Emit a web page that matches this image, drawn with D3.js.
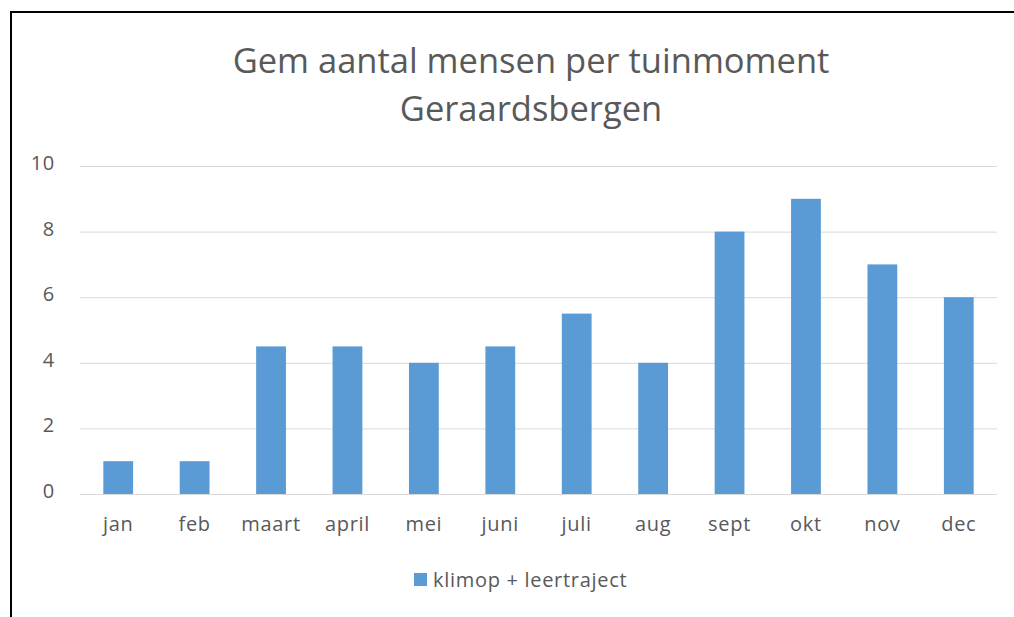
<!DOCTYPE html>
<html>
<head>
<meta charset="utf-8">
<script src="https://cdn.jsdelivr.net/npm/d3@7"></script>
<style>
  body { margin: 0; background: #fff; }
  svg { display: block; font-family: "Open Sans", "Noto Sans", sans-serif; }
</style>
</head>
<body>
<div id="chart"></div>
<script>
// data
const months = ["jan", "feb", "maart", "april", "mei", "juni", "juli", "aug", "sept", "okt", "nov", "dec"];
const values = [1, 1, 4.5, 4.5, 4, 4.5, 5.5, 4, 8, 9, 7, 6];
const yTicks = [0, 2, 4, 6, 8, 10];
const titleLines = ["Gem aantal mensen per tuinmoment", "Geraardsbergen"];
const seriesName = "klimop + leertraject";

const width = 1014, height = 617;
const barColor = "#5b9bd5", textColor = "#595959", gridColor = "#d9d9d9";

const svg = d3.select("#chart").append("svg")
    .attr("width", width).attr("height", height);

svg.append("rect").attr("width", width).attr("height", height).attr("fill", "#fff");

// frame : only top and left lines are visible
svg.append("line").attr("x1", 10).attr("x2", width).attr("y1", 12).attr("y2", 12)
    .attr("stroke", "#000").attr("stroke-width", 2);
svg.append("line").attr("x1", 11).attr("x2", 11).attr("y1", 11).attr("y2", height)
    .attr("stroke", "#000").attr("stroke-width", 2);

// title
svg.append("g").selectAll("text").data(titleLines).enter().append("text")
    .attr("x", 531).attr("y", (d, i) => 73 + i * 48)
    .attr("text-anchor", "middle")
    .attr("font-size", "34.5px").attr("fill", textColor)
    .text(d => d);

// scales
const x = d3.scaleBand().domain(months).range([80, 997]).paddingInner(0.61).paddingOuter(0.305);
const y = d3.scaleLinear().domain([0, 10]).range([494, 166]);

// gridlines
svg.append("g").selectAll("line").data(yTicks).enter().append("line")
    .attr("x1", 80).attr("x2", 997)
    .attr("y1", d => y(d) + 0.5).attr("y2", d => y(d) + 0.5)
    .attr("stroke", gridColor).attr("stroke-width", 1);

// y labels
svg.append("g").selectAll("text").data(yTicks).enter().append("text")
    .attr("x", 55).attr("y", d => y(d) + 4)
    .attr("text-anchor", "end")
    .attr("font-size", "20px").attr("letter-spacing", "0.7px").attr("fill", textColor)
    .text(d => d);

// bars
svg.append("g").selectAll("rect").data(values).enter().append("rect")
    .attr("x", (d, i) => x(months[i]))
    .attr("y", d => y(d))
    .attr("width", x.bandwidth())
    .attr("height", d => y(0) - y(d))
    .attr("fill", barColor);

// x labels
svg.append("g").selectAll("text").data(months).enter().append("text")
    .attr("x", d => x(d) + x.bandwidth() / 2).attr("y", 531)
    .attr("text-anchor", "middle")
    .attr("font-size", "20px").attr("letter-spacing", "0.7px").attr("fill", textColor)
    .text(d => d);

// legend
const legend = svg.append("g").attr("transform", "translate(414,573)");
legend.append("rect").attr("width", 13).attr("height", 13).attr("fill", barColor);
legend.append("text").attr("x", 19).attr("y", 14)
    .attr("font-size", "20px").attr("letter-spacing", "0.7px").attr("fill", textColor)
    .text(seriesName);
</script>
</body>
</html>
